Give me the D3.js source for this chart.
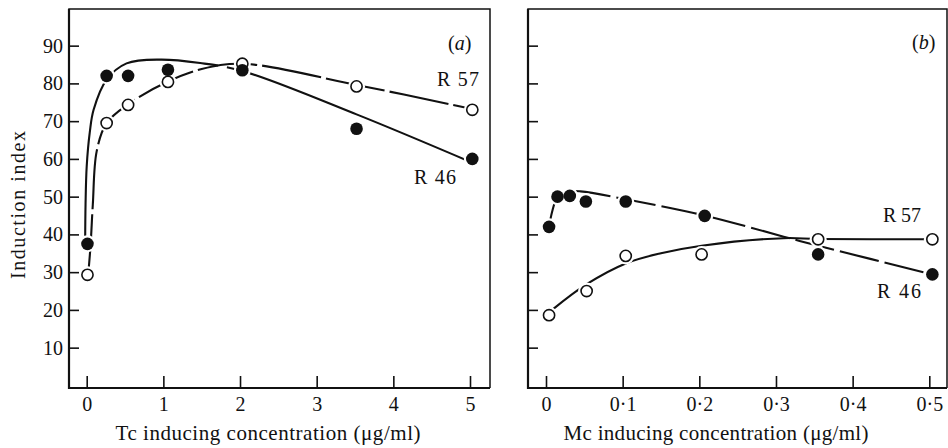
<!DOCTYPE html>
<html>
<head>
<meta charset="utf-8">
<script src="https://cdn.jsdelivr.net/npm/d3@7"></script>
<style>
  body { margin: 0; background: #fff; }
  text { font-family: "Liberation Serif", "Times New Roman", serif; fill: #111; }
</style>
</head>
<body>
<script>
// (a) Tc induction - observed points
const tcConc = [0.01, 0.26, 0.54, 1.06, 2.03, 3.52, 5.03];
const tcR46 = [37.5, 82, 82, 83.6, 83.5, 68, 60];
const tcR57 = [29.3, 69.5, 74.3, 80.4, 85.2, 79.2, 73];
// hand fitted curves
const tcFitR46 = [[-0.02, 38], [-0.015, 48], [0.0, 58], [0.04, 67], [0.09, 73], [0.26, 81],
  [0.52, 85.3], [0.96, 86.3], [1.48, 85.4], [2.03, 83.3], [3.52, 71.8], [5.03, 59]];
const tcFitR57 = [[0.02, 29.5], [0.05, 37], [0.08, 48], [0.13, 62], [0.26, 69.5], [0.54, 74.5],
  [1.06, 80.5], [1.5, 83.8], [2.03, 85.2], [3.52, 79.6], [5.03, 73.2]];

// (b) Mc induction
const mcConcR46 = [0.004, 0.015, 0.031, 0.052, 0.104, 0.207, 0.355, 0.504];
const mcR46 = [42, 50, 50.2, 48.7, 48.7, 44.9, 34.7, 29.4];
const mcConcR57 = [0.004, 0.053, 0.104, 0.203, 0.355, 0.504];
const mcR57 = [18.6, 25, 34.3, 34.7, 38.7, 38.7];
const mcFitR46 = [[0.004, 42], [0.008, 46], [0.014, 49.5], [0.025, 51.2], [0.045, 51.4], [0.104, 49.3],
  [0.207, 45], [0.31, 39.4], [0.355, 37], [0.504, 29.4]];
const mcFitR57 = [[0.008, 20], [0.053, 26.8], [0.104, 32.3], [0.15, 35], [0.203, 37], [0.31, 39],
  [0.355, 38.8], [0.504, 38.7]];

const tcTicks = [0, 1, 2, 3, 4, 5];
const mcTicks = [0, 0.1, 0.2, 0.3, 0.4, 0.5];
const yTicks = [10, 20, 30, 40, 50, 60, 70, 80, 90];

const svg = d3.select('body').append('svg')
  .attr('width', 948)
  .attr('height', 448);

const frameTop = 9, frameBottom = 388;
const y = d3.scaleLinear().domain([0, 100]).range([385.4, 7.9]);

function panel(p) {
  const g = svg.append('g');
  const x = d3.scaleLinear().domain(p.xDomain).range(p.xRange);

  const ax = g.append('g')
    .attr('transform', `translate(0,${frameBottom})`)
    .call(d3.axisBottom(x).tickValues(p.xTicks).tickFormat(p.fmt).tickSize(-12).tickPadding(9));
  ax.select('.domain').remove();
  ax.attr('font-size', 20);
  ax.selectAll('line').attr('stroke', '#111').attr('stroke-width', 1.6);

  const ay = g.append('g')
    .attr('transform', `translate(${p.left},0)`)
    .call(d3.axisLeft(y).tickValues(yTicks).tickSize(-10).tickPadding(6)
      .tickFormat(p.yLabels ? d3.format('d') : ''));
  ay.select('.domain').remove();
  ay.attr('font-size', 20);
  ay.selectAll('line').attr('stroke', '#111').attr('stroke-width', 1.6);

  // frame, left and bottom heavier
  g.append('path')
    .attr('d', `M${p.left},${frameBottom}V${frameTop}H${p.right}V${frameBottom}`)
    .attr('fill', 'none').attr('stroke', '#111').attr('stroke-width', 1.5);
  g.append('path')
    .attr('d', `M${p.left},${frameTop}V${frameBottom}H${p.right}`)
    .attr('fill', 'none').attr('stroke', '#111').attr('stroke-width', 2.2);

  const line = d3.line()
    .x(d => x(d[0]))
    .y(d => y(d[1]))
    .curve(d3.curveCatmullRom.alpha(0.5));

  p.fits.forEach(f => {
    g.append('path')
      .attr('d', line(f.data))
      .attr('fill', 'none')
      .attr('stroke', '#111')
      .attr('stroke-width', 2.1)
      .attr('stroke-dasharray', f.dash || null);
  });

  p.series.forEach(s => {
    const pts = s.conc.map((c, i) => [c, s.vals[i]]);
    // white ring makes the line break round each point
    g.append('g').selectAll('circle')
      .data(pts)
      .join('circle')
      .attr('cx', d => x(d[0]))
      .attr('cy', d => y(d[1]))
      .attr('r', 8.5)
      .attr('fill', '#fff');
  });
  p.series.forEach(s => {
    const pts = s.conc.map((c, i) => [c, s.vals[i]]);
    g.append('g').selectAll('circle')
      .data(pts)
      .join('circle')
      .attr('cx', d => x(d[0]))
      .attr('cy', d => y(d[1]))
      .attr('r', s.filled ? 6.3 : 5.6)
      .attr('fill', s.filled ? '#111' : '#fff')
      .attr('stroke', '#111')
      .attr('stroke-width', s.filled ? 0 : 1.6);
  });

  p.labels.forEach(l => {
    g.append('text')
      .attr('x', l.x).attr('y', l.y)
      .attr('font-size', l.size || 20)
      .attr('textLength', l.w || null)
      .html(l.t);
  });

  g.append('text')
    .attr('x', p.titleX).attr('y', 440)
    .attr('text-anchor', 'middle')
    .attr('font-size', 21)
    .attr('textLength', 305)
    .attr('lengthAdjust', 'spacing')
    .text(p.title);
}

const dotFmt = d => d === 0 ? '0' : d3.format('.1f')(d).replace('.', '\u00b7');

panel({
  left: 69, right: 490,
  xDomain: [0, 5], xRange: [86.7, 470],
  xTicks: tcTicks, fmt: d3.format('d'),
  yLabels: true,
  fits: [{ data: tcFitR46, dash: '284,9,600' }, { data: tcFitR57, dash: '60,5' }],
  series: [
    { conc: tcConc, vals: tcR57, filled: false },
    { conc: tcConc, vals: tcR46, filled: true }
  ],
  labels: [
    { t: '(<tspan font-style="italic">a</tspan>)', x: 448, y: 50 },
    { t: 'R 57', x: 437, y: 86, w: 42 },
    { t: 'R 46', x: 414, y: 184, w: 42 }
  ],
  title: 'Tc inducing concentration (\u03bcg/ml)', titleX: 268
});

panel({
  left: 528, right: 947,
  xDomain: [0, 0.5], xRange: [546, 929.3],
  xTicks: mcTicks, fmt: dotFmt,
  yLabels: false,
  fits: [{ data: mcFitR46, dash: '40,6' }, { data: mcFitR57 }],
  series: [
    { conc: mcConcR57, vals: mcR57, filled: false },
    { conc: mcConcR46, vals: mcR46, filled: true }
  ],
  labels: [
    { t: '(<tspan font-style="italic">b</tspan>)', x: 912, y: 49 },
    { t: 'R 57', x: 883, y: 222, w: 38 },
    { t: 'R 46', x: 877, y: 298, w: 44 }
  ],
  title: 'Mc inducing concentration (\u03bcg/ml)', titleX: 716
});

svg.append('text')
  .attr('transform', 'translate(25,205) rotate(-90)')
  .attr('text-anchor', 'middle')
  .attr('font-size', 20)
  .attr('textLength', 148)
  .attr('lengthAdjust', 'spacing')
  .text('Induction index');
</script>
</body>
</html>
